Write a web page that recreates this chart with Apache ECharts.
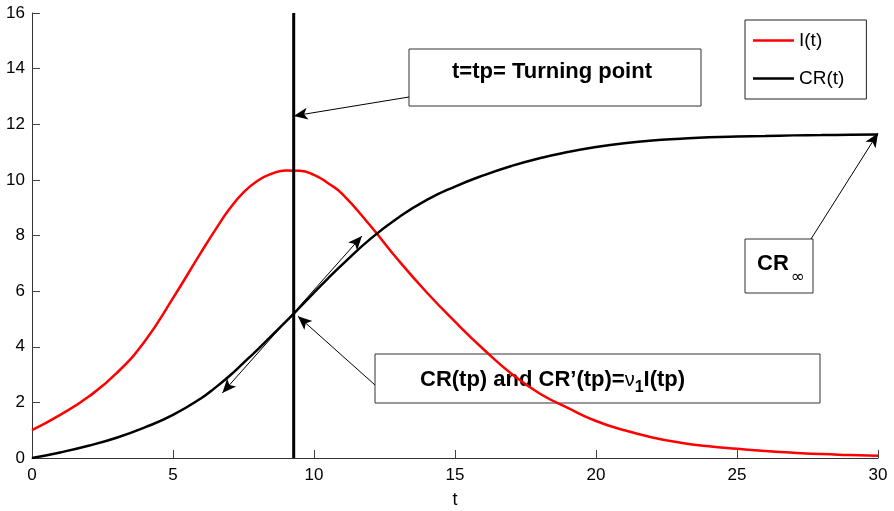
<!DOCTYPE html>
<html>
<head>
<meta charset="utf-8">
<script src="https://cdn.jsdelivr.net/npm/echarts@6/dist/echarts.min.js"></script>
<style>
  html, body { margin: 0; padding: 0; background: #fff; }
  #chart { width: 894px; height: 511px; }
</style>
</head>
<body>
<div id="chart"></div>
<script>
// values (a few extra samples around the peak)
const tVals = [0, 1, 2, 3, 4, 5, 6, 6.5, 7, 7.5, 8, 8.5, 9, 9.5, 10, 10.5, 11, 12, 13, 14, 15, 16, 17, 18, 19, 20, 21, 22, 23, 24, 25, 26, 27, 28, 29, 30];
const iVals = [1.00, 1.55, 2.20, 3.05, 4.20, 5.75, 7.40, 8.20, 8.95, 9.55, 9.97, 10.22, 10.34, 10.33, 10.18, 9.88, 9.50, 8.35, 7.10, 5.95, 4.90, 3.92, 3.03, 2.32, 1.80, 1.33, 1.00, 0.74, 0.55, 0.42, 0.33, 0.25, 0.19, 0.14, 0.11, 0.08];
const crVals = [0, 0.20, 0.44, 0.73, 1.10, 1.55, 2.15, 2.53, 2.95, 3.42, 3.90, 4.40, 4.90, 5.42, 5.95, 6.46, 6.95, 7.88, 8.65, 9.28, 9.76, 10.16, 10.50, 10.78, 11.00, 11.18, 11.32, 11.42, 11.48, 11.53, 11.56, 11.58, 11.60, 11.61, 11.62, 11.63];
const xTicks = [0, 5, 10, 15, 20, 25, 30];
const yTicks = [0, 2, 4, 6, 8, 10, 12, 14, 16];

const tp = 9.28;           // turning point
const tpLine = [[tp, 0], [tp, 16]];
const tangentLow = [6.75, 2.34];
const tangentHigh = [11.7, 7.98];
const tpArrowTip = [tp, 12.3];
const crTpArrowTip = [tp + 0.15, 5.1];
const crInfArrowTip = [30, 11.68];

const font = 'Liberation Sans';
// thin line icon for the legend (tiny dots keep the 0..14 box)
const lineIcon = 'path://M0,0L0.01,0L0.01,0.01Z M0,5.8L41,5.8L41,8.2L0,8.2Z M0,14L0.01,14L0.01,13.99Z';
const chart = echarts.init(document.getElementById('chart'));

function arrow(from, to, both) {
  return [
    Object.assign({ symbol: both ? 'arrow' : 'none' }, from),
    Object.assign({ symbol: 'arrow' }, to)
  ];
}

chart.setOption({
  animation: false,
  textStyle: { fontFamily: font },
  grid: { left: 32, right: 16, top: 13, bottom: 53, containLabel: false, outerBoundsMode: 'none' },
  legend: {
    left: 745, top: 20,
    orient: 'vertical',
    padding: [11, 22, 11, 8],
    itemWidth: 41, itemHeight: 14, itemGap: 19,
    borderColor: '#222', borderWidth: 1,
    backgroundColor: '#fff',
    textStyle: { fontSize: 19, color: '#000', fontFamily: font },
    data: [
      { name: 'I(t)', icon: lineIcon },
      { name: 'CR(t)', icon: lineIcon }
    ]
  },
  xAxis: {
    type: 'value', min: xTicks[0], max: xTicks[xTicks.length - 1], interval: 5,
    name: 't', nameLocation: 'middle', nameGap: 33,
    nameTextStyle: { fontSize: 18, color: '#000', fontFamily: font },
    axisLine: { lineStyle: { color: '#333', width: 1 } },
    axisTick: { inside: true, length: 8, lineStyle: { color: '#444' } },
    axisLabel: { fontSize: 17, color: '#000', margin: 9, fontFamily: font },
    splitLine: { show: false }
  },
  yAxis: {
    type: 'value', min: yTicks[0], max: yTicks[yTicks.length - 1], interval: 2,
    axisLine: { show: true, lineStyle: { color: '#333', width: 1 } },
    axisTick: { show: true, inside: true, length: 8, lineStyle: { color: '#444' } },
    axisLabel: { fontSize: 17, color: '#000', margin: 7, fontFamily: font },
    splitLine: { show: false }
  },
  series: [
    {
      name: 'I(t)', type: 'line', smooth: true, symbol: 'none',
      lineStyle: { color: '#ff0000', width: 2.5 },
      itemStyle: { color: '#ff0000' },
      data: tVals.map((t, k) => [t, iVals[k]]),
      z: 3
    },
    {
      name: 'tp', type: 'line', symbol: 'none', silent: true,
      lineStyle: { color: '#000', width: 3 },
      data: tpLine,
      z: 4
    },
    {
      name: 'CR(t)', type: 'line', smooth: true, symbol: 'none',
      lineStyle: { color: '#000', width: 2.5 },
      itemStyle: { color: '#000' },
      data: tVals.map((t, k) => [t, crVals[k]]),
      z: 5,
      markLine: {
        silent: true,
        label: { show: false },
        symbolSize: [9, 14],
        lineStyle: { color: '#000', width: 1, type: 'solid' },
        data: [
          arrow({ x: 409, y: 97 }, { coord: tpArrowTip }),
          arrow({ x: 375, y: 385 }, { coord: crTpArrowTip }),
          arrow({ x: 811, y: 239 }, { coord: crInfArrowTip }),
          arrow({ coord: tangentLow }, { coord: tangentHigh }, true)
        ]
      }
    }
  ],
  graphic: [
    { type: 'rect', shape: { x: 409, y: 49, width: 292, height: 57 }, style: { fill: 'none', stroke: '#333', lineWidth: 1 }, z: 0 },
    { type: 'text', x: 452, y: 72, style: { text: 't=tp= Turning point', font: 'bold 22px "Liberation Sans"', fill: '#000', verticalAlign: 'middle' }, z: 0 },
    { type: 'rect', shape: { x: 375, y: 354, width: 445, height: 49 }, style: { fill: 'none', stroke: '#333', lineWidth: 1 }, z: 0 },
    {
      type: 'text', x: 420, y: 380, z: 0,
      style: {
        text: '{b|CR(tp) and CR’(tp)=}{nu|ν}{sub|1}{b|I(tp)}',
        verticalAlign: 'middle',
        rich: {
          b: { font: 'bold 22px "Liberation Sans"', fill: '#000' },
          nu: { font: '20px "Liberation Sans"', fill: '#000' },
          sub: { font: 'bold 16px "Liberation Sans"', fill: '#000', padding: [16, 0, 0, 0] }
        }
      }
    },
    { type: 'rect', shape: { x: 745, y: 239, width: 68, height: 54 }, style: { fill: 'none', stroke: '#333', lineWidth: 1 }, z: 0 },
    {
      type: 'text', x: 757, y: 264, z: 0,
      style: {
        text: '{b|CR}{sub|∞}',
        verticalAlign: 'middle',
        rich: {
          b: { font: 'bold 22px "Liberation Sans"', fill: '#000' },
          sub: { font: '17px "DejaVu Sans"', fill: '#000', padding: [28, 0, 0, 2] }
        }
      }
    }
  ]
});
</script>
</body>
</html>
